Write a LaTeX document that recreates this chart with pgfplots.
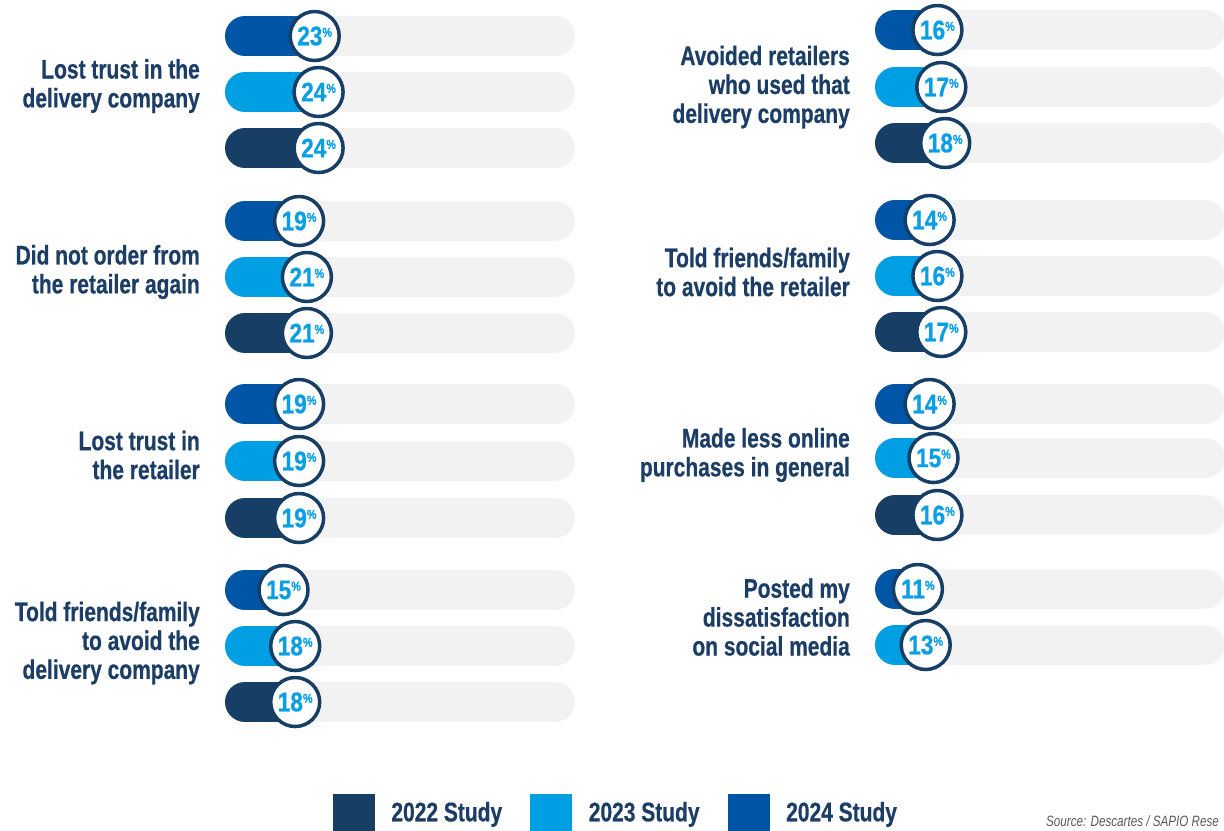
\documentclass[border=0pt]{standalone}
\usepackage{fontspec}
\setmainfont{Liberation Sans}[FakeStretch=0.78, BoldFeatures={FakeBold=0.6}]
\newfontfamily\numfont{Liberation Sans}[FakeStretch=0.84, BoldFeatures={FakeBold=0.7}]
\usepackage{pgfplots}
\usepackage{pgfplotstable}
\pgfplotsset{compat=1.18}

\definecolor{cnavy}{HTML}{173F66}
\definecolor{clight}{HTML}{009FE3}
\definecolor{cmed}{HTML}{0055A6}
\definecolor{ctrack}{HTML}{F2F2F2}
\definecolor{ctext}{HTML}{1B3D66}
\definecolor{cval}{HTML}{0A9FE5}

% left panel (y = vertical position of the row, v = percent)
\pgfplotstableread{
y v
36 23
221 19
404 19
590 15
}\LtwentyFour
\pgfplotstableread{
y v
92 24
277 21
461 19
646 18
}\LtwentyThree
\pgfplotstableread{
y v
148 24
333 21
518 19
702 18
}\LtwentyTwo
% right panel
\pgfplotstableread{
y v
30 16
220 14
404 14
589 11
}\RtwentyFour
\pgfplotstableread{
y v
87 17
276 16
458 15
645 13
}\RtwentyThree
\pgfplotstableread{
y v
143 18
332 17
515 16
}\RtwentyTwo

\pgfplotsset{
  panel/.style={scale only axis, width=350bp, height=831bp, anchor=north west,
    xmin=-5.128, xmax=84.616, ymin=0, ymax=831, y dir=reverse, clip=false,
    axis line style={draw=none}, xtick=\empty, major tick length=0pt,
    yticklabel style={align=right, font=\bfseries\fontsize{27}{29}\selectfont,
      text=ctext, inner sep=0pt, xshift=-25bp}},
  track/.style={xcomb, line width=40bp, line cap=round, color=ctrack, forget plot},
  bar/.style={xcomb, line width=40bp, line cap=round, color=#1, forget plot},
  dot/.style={only marks, mark=*, mark size=24.5bp, forget plot,
    mark options={fill=white, draw=cnavy, line width=3.5bp},
    point meta=explicit,
    nodes near coords={\pgfmathprintnumber[fixed,precision=0,assume math mode=true]{\pgfplotspointmeta}\raisebox{8.5bp}{\fontsize{13}{13}\selectfont\%}},
    every node near coord/.append style={anchor=center, text=cval,
      font=\numfont\bfseries\fontsize{27}{27}\selectfont, inner sep=0pt}},
}

\begin{document}
\begin{tikzpicture}
\path[use as bounding box] (0bp,0bp) rectangle (1224bp,-831bp);

\begin{axis}[panel, at={(225bp,0bp)},
  ytick={86,272,455,643},
  yticklabels={{Lost trust in the\\delivery company},{Did not order from\\the retailer again},{Lost trust in\\the retailer},{Told friends/family\\to avoid the\\delivery company}},
  legend columns=3,
  legend style={at={(0.3086,0)}, anchor=south west, draw=none, fill=none,
    inner sep=0pt, outer sep=0pt, column sep=0pt,
    nodes={inner sep=0pt, font=\bfseries\fontsize{27}{29}\selectfont, text=ctext}},
]
\addplot[track] table[x expr=79.487, y=y] {\LtwentyFour};
\addplot[track] table[x expr=79.487, y=y] {\LtwentyThree};
\addplot[track] table[x expr=79.487, y=y] {\LtwentyTwo};
\addplot[bar=cmed] table[x expr=\thisrow{v}-5.128, y=y] {\LtwentyFour};
\addplot[bar=clight] table[x expr=\thisrow{v}-5.128, y=y] {\LtwentyThree};
\addplot[bar=cnavy] table[x expr=\thisrow{v}-5.128, y=y] {\LtwentyTwo};
\addplot[dot] table[x expr=\thisrow{v}-5.128, y=y, meta=v] {\LtwentyFour};
\addplot[dot] table[x expr=\thisrow{v}-5.128, y=y, meta=v] {\LtwentyThree};
\addplot[dot] table[x expr=\thisrow{v}-5.128, y=y, meta=v] {\LtwentyTwo};
\addlegendimage{legend image code/.code={\fill[cnavy] (0bp,-18.5bp) rectangle (41bp,18.5bp); \path (58bp,0bp);}}
\addlegendentry{\makebox[139bp][l]{2022 Study}}
\addlegendimage{legend image code/.code={\fill[clight] (0bp,-18.5bp) rectangle (41bp,18.5bp); \path (58bp,0bp);}}
\addlegendentry{\makebox[139bp][l]{2023 Study}}
\addlegendimage{legend image code/.code={\fill[cmed] (0bp,-18.5bp) rectangle (41bp,18.5bp); \path (58bp,0bp);}}
\addlegendentry{\makebox[139bp][l]{2024 Study}}
\end{axis}

\begin{axis}[panel, at={(875bp,0bp)},
  ytick={87,272,455,617},
  yticklabels={{Avoided retailers\\who used that\\delivery company},{Told friends/family\\to avoid the retailer},{Made less online\\purchases in general},{Posted my\\dissatisfaction\\on social media}},
]
\addplot[track] table[x expr=79.487, y=y] {\RtwentyFour};
\addplot[track] table[x expr=79.487, y=y] {\RtwentyThree};
\addplot[track] table[x expr=79.487, y=y] {\RtwentyTwo};
\addplot[bar=cmed] table[x expr=\thisrow{v}-5.128, y=y] {\RtwentyFour};
\addplot[bar=clight] table[x expr=\thisrow{v}-5.128, y=y] {\RtwentyThree};
\addplot[bar=cnavy] table[x expr=\thisrow{v}-5.128, y=y] {\RtwentyTwo};
\addplot[dot] table[x expr=\thisrow{v}-5.128, y=y, meta=v] {\RtwentyFour};
\addplot[dot] table[x expr=\thisrow{v}-5.128, y=y, meta=v] {\RtwentyThree};
\addplot[dot] table[x expr=\thisrow{v}-5.128, y=y, meta=v] {\RtwentyTwo};
\end{axis}

\node[anchor=base west, inner sep=0pt, text=black!65, font=\itshape\fontsize{15}{15}\selectfont] at (1046bp,-826bp) {Source: Descartes / SAPIO Rese};
\end{tikzpicture}
\end{document}
